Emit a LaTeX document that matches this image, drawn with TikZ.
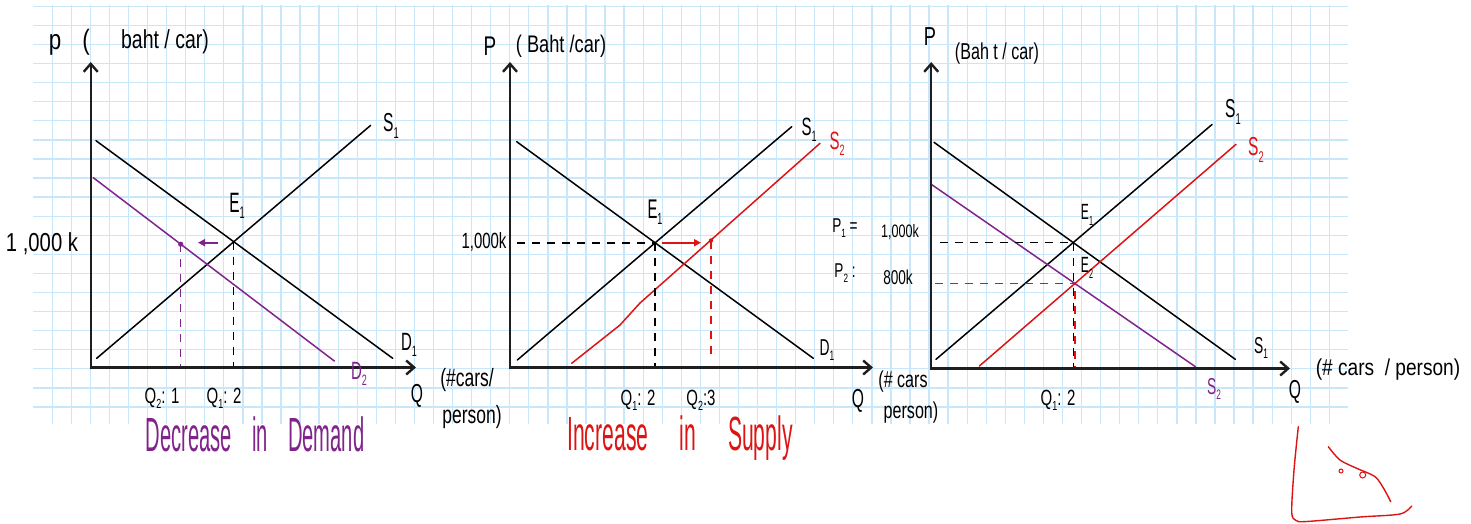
\documentclass[tikz,border=0pt]{standalone}
\usepackage{fontspec}
\setmainfont{Liberation Sans}
\usetikzlibrary{arrows.meta,intersections}
\definecolor{gridblue}{RGB}{200,231,250}
\definecolor{hpurple}{RGB}{128,36,140}
\definecolor{hred}{RGB}{222,20,20}
\newcommand\fsz[1]{\fontsize{#1}{#1}\selectfont}
\newcommand\hws[2]{\scalebox{#1}[1]{#2}}
\newcommand\sbs[1]{\raisebox{-0.45ex}{\scalebox{0.6}{#1}}}
\begin{document}
\begin{tikzpicture}[x=1pt,y=-1pt,
  lbl/.style={inner sep=0pt, anchor=center},
  gridline/.style={gridblue, line width=1.3pt},
  curve/.style={line width=1.5pt, line cap=round},
  axisline/.style={line width=2.4pt, draw={rgb,255:red,30;green,30;blue,30}, {Straight Barb[length=8pt,width=14pt]}-{Straight Barb[length=8pt,width=14pt]}},
  dsh/.style={line width=1.4pt, dash pattern=on 8pt off 7pt},
  shiftarrow/.style={line width=1.6pt, -{Triangle[length=7pt,width=7pt]}},
  scribble/.style={hred, line width=1.4pt, line cap=round, line join=round}
]
\useasboundingbox (0,0) rectangle (1471,523);
\fill[white] (0,0) rectangle (1471,523);
% grid
\foreach \k in {0,...,67} \draw[gridline] ({52.3+19.06*\k},5) -- ({52.3+19.06*\k},424);
\foreach \k in {0,...,21} \draw[gridline] (33,{6.3+19.08*\k}) -- (1348,{6.3+19.08*\k});

% ---------------- Panel 1 ----------------
\coordinate (o1) at (90.7,367.5);
\coordinate (y1) at (90.7,62);
\coordinate (x1) at (416,367.5);
\coordinate (d1a) at (96,140.7);   \coordinate (d1b) at (392.7,358.3);
\coordinate (s1a) at (96.7,358.3); \coordinate (s1b) at (370.7,125.3);
\coordinate (d2a) at (93.3,177.7); \coordinate (d2b) at (334.3,361);
\draw[curve, name path=pD1] (d1a) -- (d1b);
\draw[curve, name path=pS1] (s1a) -- (s1b);
\draw[curve, hpurple] (d2a) -- (d2b);
\path[name intersections={of=pD1 and pS1, by=e1}];
\draw[dsh] (e1) -- (e1 |- o1);
\coordinate (pd1) at (180.7,244.2);
\draw[dsh, hpurple] (pd1) -- (pd1 |- o1);
\fill[hpurple] (pd1) circle (2.6pt);
\coordinate (pa1) at (218,242.7); \coordinate (pa2) at (198,242.7);
\draw[shiftarrow, hpurple] (pa1) -- (pa2);
\draw[axisline] (y1) -- (o1) -- (x1);

\node[lbl,font=\fsz{28}] (p1P) at (55,45) {\hws{0.8}{p}};
\node[lbl,font=\fsz{28}] (p1par) at (86,42) {\hws{0.8}{(}};
\node[lbl,font=\fsz{26}] (p1unit) at (165,42) {\hws{0.75}{baht / car)}};
\node[lbl,font=\fsz{26}] (p1S1) at (391,126) {\hws{0.6}{S\sbs{1}}};
\node[lbl,font=\fsz{28}] (p1E1) at (237,206) {\hws{0.55}{E\sbs{1}}};
\node[lbl,font=\fsz{26}] (p1price) at (42,244) {\hws{0.78}{1 ,000 k}};
\node[lbl,font=\fsz{25}] (p1D1) at (409,345) {\hws{0.6}{D\sbs{1}}};
\node[lbl,font=\fsz{25},text=hpurple] (p1D2) at (359,374) {\hws{0.6}{D\sbs{2}}};
\node[lbl,font=\fsz{26}] (p1Q) at (417,396) {\hws{0.6}{Q}};
\node[lbl,font=\fsz{25}] (p1qa) at (467,380) {\hws{0.7}{(\#cars/}};
\node[lbl,font=\fsz{25}] (p1qb) at (472,417) {\hws{0.7}{person)}};
\node[lbl,font=\fsz{22}] (p1Q2) at (162,398) {\hws{0.68}{Q\sbs{2}: 1}};
\node[lbl,font=\fsz{22}] (p1Q1) at (224,398) {\hws{0.68}{Q\sbs{1}: 2}};
\node[lbl,font=\fsz{48},text=hpurple] (p1title) at (255,434) {\hws{0.42}{Decrease\hspace{1em}in\hspace{1em}Demand}};

% ---------------- Panel 2 ----------------
\coordinate (o2) at (510,367.5);
\coordinate (y2) at (510,62);
\coordinate (x2) at (873,367.5);
\coordinate (d21a) at (516.7,141.7); \coordinate (d21b) at (813.3,358.3);
\coordinate (s21a) at (517.3,360);   \coordinate (s21b) at (791.7,126.7);
\coordinate (s22a) at (571.7,363.3); \coordinate (s22m) at (620,325);
\coordinate (s22n) at (640,303);     \coordinate (s22b) at (820,143.3);
\draw[curve, name path=qD1] (d21a) -- (d21b);
\draw[curve, name path=qS1] (s21a) -- (s21b);
\draw[curve, hred] (s22a) -- (s22m) -- (s22n) -- (s22b);
\path[name intersections={of=qD1 and qS1, by=e2}];
\coordinate (h2) at (517,0);
\draw[dsh] (h2 |- e2) -- (e2);
\draw[dsh] (e2) -- (e2 |- o2);
\coordinate (rd2) at (711,240.5);
\draw[dsh, hred] (rd2) -- (711,360);
\fill[hred] (rd2) circle (2.2pt);
\coordinate (ra1) at (662,242.7); \coordinate (ra2) at (701,242.7);
\draw[shiftarrow, hred] (ra1) -- (ra2);
\draw[axisline] (y2) -- (o2) -- (x2);

\node[lbl,font=\fsz{27}] (p2P) at (490,46) {\hws{0.7}{P}};
\node[lbl,font=\fsz{24}] (p2unit) at (561,46) {\hws{0.76}{( Baht /car)}};
\node[lbl,font=\fsz{25}] (p2S1) at (809,130) {\hws{0.6}{S\sbs{1}}};
\node[lbl,font=\fsz{25},text=hred] (p2S2) at (837,144) {\hws{0.6}{S\sbs{2}}};
\node[lbl,font=\fsz{27}] (p2E1) at (655,212) {\hws{0.55}{E\sbs{1}}};
\node[lbl,font=\fsz{22}] (p2price) at (484,242) {\hws{0.68}{1,000k}};
\node[lbl,font=\fsz{23}] (p2D1) at (827,350) {\hws{0.6}{D\sbs{1}}};
\node[lbl,font=\fsz{22}] (p2Q1) at (638,400) {\hws{0.68}{Q\sbs{1}: 2}};
\node[lbl,font=\fsz{22}] (p2Q2) at (701,400) {\hws{0.68}{Q\sbs{2}:3}};
\node[lbl,font=\fsz{26}] (p2Q) at (858,401) {\hws{0.6}{Q}};
\node[lbl,font=\fsz{23}] (p2qa) at (903,382) {\hws{0.7}{(\# cars}};
\node[lbl,font=\fsz{23}] (p2qb) at (911,413) {\hws{0.7}{person)}};
\node[lbl,font=\fsz{48},text=hred] (p2title) at (680,438) {\hws{0.44}{Increase\hspace{1.5em}in\hspace{1.5em}Supply}};

% ---------------- Panel 3 ----------------
\coordinate (o3) at (931.2,368.5);
\coordinate (y3) at (931.2,62);
\coordinate (x3) at (1290,368.5);
\coordinate (d31a) at (934,142.3);   \coordinate (d31b) at (1235.3,359.3);
\coordinate (s31a) at (936,359.3);   \coordinate (s31b) at (1212,124.5);
\coordinate (s32a) at (979.4,366);   \coordinate (s32b) at (1236,144.3);
\coordinate (d32a) at (931.2,184.3); \coordinate (d32b) at (1195.4,366.7);
\draw[curve, name path=rD1] (d31a) -- (d31b);
\draw[curve, name path=rS1] (s31a) -- (s31b);
\draw[curve, hred, name path=rS2] (s32a) -- (s32b);
\draw[curve, hpurple, name path=rD2] (d32a) -- (d32b);
\path[name intersections={of=rD1 and rS1, by=e3}];
\path[name intersections={of=rS2 and rD2, by=f3}];
\coordinate (h3a) at (939.5,0); \coordinate (h3b) at (935.4,0);
\draw[dsh] (h3a |- e3) -- (e3);
\draw[dsh, hred] (h3b |- f3) -- (f3);
\draw[dsh] (e3) -- (e3 |- o3);
\draw[dsh, hred, dash phase=7.5pt] (f3) -- (f3 |- o3);
\draw[axisline] (y3) -- (o3) -- (x3);

\node[lbl,font=\fsz{26}] (p3P) at (930,37) {\hws{0.7}{P}};
\node[lbl,font=\fsz{23}] (p3unit) at (997,54) {\hws{0.7}{(Bah t / car)}};
\node[lbl,font=\fsz{26}] (p3S1) at (1233,112) {\hws{0.6}{S\sbs{1}}};
\node[lbl,font=\fsz{26},text=hred] (p3S2) at (1256,150) {\hws{0.6}{S\sbs{2}}};
\node[lbl,font=\fsz{22}] (p3E1) at (1087,215) {\hws{0.55}{E\sbs{1}}};
\node[lbl,font=\fsz{22}] (p3E2) at (1087,268) {\hws{0.55}{E\sbs{2}}};
\node[lbl,font=\fsz{20}] (p3P1) at (845,228) {\hws{0.68}{P\sbs{1} =}};
\node[lbl,font=\fsz{18}] (p3v1) at (900,232) {\hws{0.7}{1,000k}};
\node[lbl,font=\fsz{20}] (p3P2) at (845,273) {\hws{0.68}{P\sbs{2} :}};
\node[lbl,font=\fsz{20}] (p3v2) at (898,277) {\hws{0.68}{800k}};
\node[lbl,font=\fsz{23}] (p3S1b) at (1261,348) {\hws{0.6}{S\sbs{1}}};
\node[lbl,font=\fsz{23},text=hpurple] (p3S2b) at (1214,389) {\hws{0.6}{S\sbs{2}}};
\node[lbl,font=\fsz{26}] (p3Q) at (1295,392) {\hws{0.6}{Q}};
\node[lbl,font=\fsz{23}] (p3qa) at (1388,370) {\hws{0.83}{(\# cars \ / person)}};
\node[lbl,font=\fsz{22}] (p3Q1) at (1058,400) {\hws{0.68}{Q\sbs{1}: 2}};

% ---------------- scribble ----------------
\draw[scribble] plot[smooth] coordinates {(1298.3,426.7) (1294,470) (1291.7,512) (1296,520.5) (1306.7,521.5) (1360,517) (1400,514) (1411.7,506)};
\draw[scribble] plot[smooth] coordinates {(1328.3,446.7) (1340,460) (1356.7,468.3) (1375,476.7) (1384,489) (1390.7,501.7)};
\draw[hred, line width=1pt] (1341,471) circle (2pt);
\draw[hred, line width=1pt] (1362.7,475) circle (3pt);
\end{tikzpicture}
\end{document}
